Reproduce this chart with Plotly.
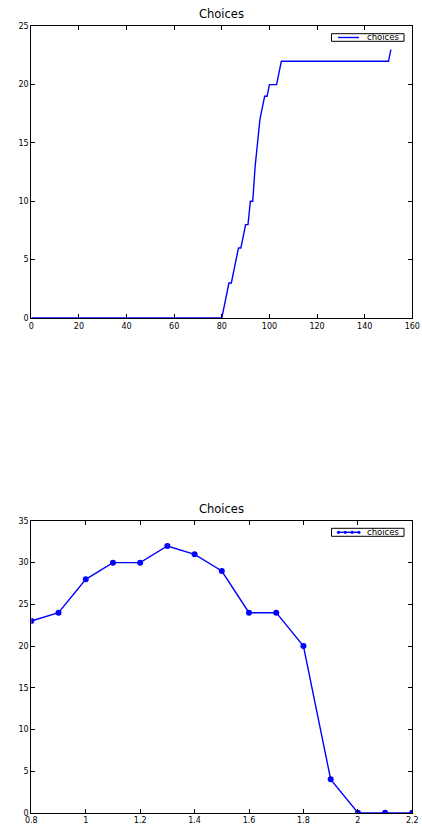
import plotly.graph_objects as go

# Top chart: choices over time (breakpoints of piecewise-linear line)
top_x = [0, 80, 81, 82, 83, 84, 85, 86, 87, 88, 89, 90, 91, 92, 93, 94, 95, 96,
         97, 98, 99, 100, 103, 104, 105, 150, 151]
top_y = [0, 0, 1, 2, 3, 3, 4, 5, 6, 6, 7, 8, 8, 10, 10, 13, 15, 17,
         18, 19, 19, 20, 20, 21, 22, 22, 23]

# Bottom chart
bot_x = [0.8, 0.9, 1.0, 1.1, 1.2, 1.3, 1.4, 1.5, 1.6, 1.7, 1.8, 1.9, 2.0, 2.1, 2.2]
bot_y = [23, 24, 28, 30, 30, 32, 31, 29, 24, 24, 20, 4, 0, 0, 0]

series_name = "choices"
title_text = "Choices"

W, H = 422, 825
FONT = "DejaVu Sans"
BLUE = "#0000ff"

fig = go.Figure()
fig.add_trace(go.Scatter(x=top_x, y=top_y, mode="lines", name=series_name,
                         line=dict(color=BLUE, width=1.4),
                         xaxis="x", yaxis="y", showlegend=False, cliponaxis=False))
fig.add_trace(go.Scatter(x=bot_x, y=bot_y, mode="lines+markers", name=series_name,
                         line=dict(color=BLUE, width=1.4),
                         marker=dict(color=BLUE, size=6, line=dict(color=BLUE, width=0)),
                         xaxis="x2", yaxis="y2", showlegend=False, cliponaxis=True))

def px_x(p):
    return p / W

def px_y(p):
    return 1 - p / H

axis_common = dict(showgrid=False, zeroline=False, showline=True, linecolor="black",
                   linewidth=1, mirror="ticks", ticks="inside", ticklen=4,
                   tickcolor="black", tickwidth=1,
                   tickfont=dict(family=FONT, size=8, color="black"),
                   automargin=False)

xd = [px_x(31.3), px_x(412.3)]

shapes = []
annotations = []

def add_legend(top, bottom, with_markers):
    # legend frame
    shapes.append(dict(type="rect", xref="paper", yref="paper",
                       x0=px_x(331.5), x1=px_x(404), y0=px_y(bottom), y1=px_y(top),
                       line=dict(color="black", width=1), fillcolor="white", layer="above"))
    ym = (top + bottom) / 2
    shapes.append(dict(type="line", xref="paper", yref="paper",
                       x0=px_x(338), x1=px_x(359), y0=px_y(ym), y1=px_y(ym),
                       line=dict(color=BLUE, width=1.4), layer="above"))
    if with_markers:
        for cx in (338.5, 345.3, 352.1, 358.9):
            shapes.append(dict(type="circle", xref="paper", yref="paper",
                               x0=px_x(cx - 1.6), x1=px_x(cx + 1.6),
                               y0=px_y(ym + 1.6), y1=px_y(ym - 1.6),
                               line=dict(color=BLUE, width=0), fillcolor=BLUE, layer="above"))
    annotations.append(dict(text=series_name, xref="paper", yref="paper",
                            x=px_x(365), y=px_y(ym), xanchor="left", yanchor="middle",
                            showarrow=False, font=dict(family=FONT, size=8.5, color="black")))

add_legend(33.7, 41.3, False)
add_legend(528.3, 536.3, True)

for base in (23, 517.5):
    annotations.append(dict(text=title_text, x=(xd[0] + xd[1]) / 2, y=px_y(base),
                            xref="paper", yref="paper", xanchor="center", yanchor="bottom",
                            showarrow=False, font=dict(family=FONT, size=11.5, color="black")))

fig.update_layout(
    width=W, height=H,
    margin=dict(l=0, r=0, t=0, b=0),
    paper_bgcolor="white", plot_bgcolor="white",
    font=dict(family=FONT, size=8, color="black"),
    xaxis=dict(domain=xd, range=[0, 160], dtick=20, tick0=0, anchor="y", **axis_common),
    yaxis=dict(domain=[px_y(318), px_y(26.3)], range=[0, 25], dtick=5, tick0=0,
               anchor="x", **axis_common),
    xaxis2=dict(domain=xd, range=[0.8, 2.2], dtick=0.2, tick0=0.8, anchor="y2", **axis_common),
    yaxis2=dict(domain=[px_y(812.7), px_y(521)], range=[0, 35], dtick=5, tick0=0,
                anchor="x2", **axis_common),
    showlegend=False,
    shapes=shapes,
    annotations=annotations,
)

fig.write_html("out.html", config={"displayModeBar": False},
               post_script="document.body.style.margin='0';document.body.style.padding='0';")
